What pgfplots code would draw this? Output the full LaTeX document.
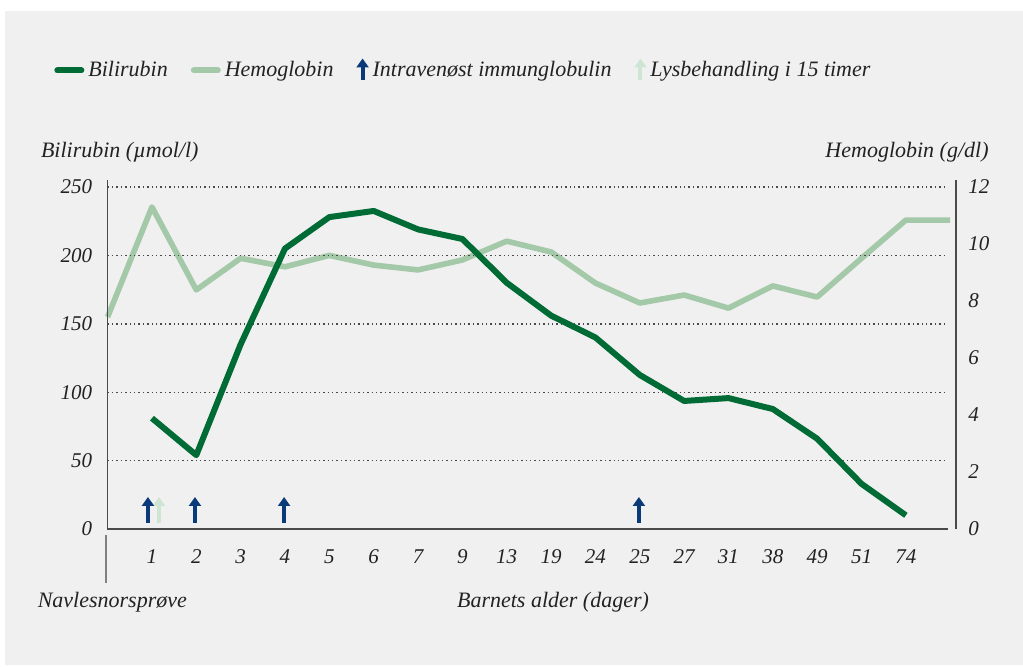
\documentclass[border=0pt]{standalone}
\usepackage{fontspec}
\setmainfont{Liberation Serif}
\usepackage{pgfplots}
\pgfplotsset{compat=1.18}
\usetikzlibrary{arrows.meta}
\definecolor{bgrey}{HTML}{F0F0F0}
\definecolor{dgreen}{HTML}{006B35}
\definecolor{lgreen}{HTML}{A3C9A8}
\definecolor{dblue}{HTML}{0A3A7A}
\definecolor{lgarrow}{HTML}{CFE5D3}
\definecolor{axgray}{HTML}{4A4A4A}
\definecolor{txt}{HTML}{222222}

\pgfplotstableread{
x hb
0 7.44
1 11.3
2 8.39
3 9.5
4 9.2
5 9.6
6 9.26
7 9.09
8 9.44
9 10.1
10 9.72
11 8.63
12 7.93
13 8.21
14 7.75
15 8.53
16 8.14
17 9.5
18 10.84
19 10.84
}\hbtable

\pgfplotstableread{
x bili
1 81
2 54
3 135
4 205
5 228
6 232.5
7 219
8 212
9 180
10 156
11 140
12 112.6
13 93.6
14 95.7
15 87.7
16 66
17 33
18 10
}\bilitable

\newcommand{\lblfont}{\itshape\fontsize{11}{13}\selectfont}
\newcommand{\tickfont}{\itshape\fontsize{10.5}{12}\selectfont}

\begin{document}
\begin{tikzpicture}[x=1pt,y=1pt]
\fill[white] (0,0) rectangle (511.5,333);
\fill[bgrey] (2.5,0.5) rectangle (511.5,327.5);

% Hemoglobin axis (right)
\begin{axis}[
  at={(53.8pt,68.5pt)}, anchor=south west,
  scale only axis, width=424.2pt, height=171pt,
  xmin=0, xmax=19.13, ymin=0, ymax=12,
  axis line style={draw=none}, tick style={draw=none},
  xtick=\empty,
  ytick={0,2,...,12},
  yticklabel pos=right,
  /pgf/number format/assume math mode=true,
  yticklabel style={font=\tickfont, text=txt, inner sep=0pt, xshift=6pt, anchor=west},
  clip=false,
]
\addplot[lgreen, line width=2.8pt, line join=round] table[x=x, y=hb] {\hbtable};
\draw[axgray, line width=0.8pt] (axis cs:19.13,0) -- (axis cs:19.13,12.25);
\end{axis}

% Bilirubin axis (left)
\begin{axis}[
  at={(53.8pt,68.5pt)}, anchor=south west,
  scale only axis, width=419.1pt, height=171pt,
  xmin=0, xmax=18.9, ymin=0, ymax=250,
  axis line style={draw=none}, tick style={draw=none},
  xtick={1,...,18},
  xticklabels={1,2,3,4,5,6,7,9,13,19,24,25,27,31,38,49,51,74},
  ytick={0,50,...,250},
  ymajorgrids,
  grid style={axgray, line width=0.7pt, dash pattern=on 0.7pt off 1.5pt},
  /pgf/number format/assume math mode=true,
  yticklabel style={font=\tickfont, text=txt, inner sep=0pt, xshift=-7.5pt, anchor=east},
  xticklabel style={font=\tickfont, text=txt, inner sep=0pt, anchor=base, yshift=-17pt},
  clip=false,
  legend columns=4,
  legend style={draw=none, fill=none, font=\lblfont, text=txt,
    at={(axis description cs:-0.064,1.342)}, anchor=west, inner sep=0pt,
    /tikz/every odd column/.append style={column sep=0pt},
    /tikz/every even column/.append style={column sep=9.5pt}},
]
\addplot[dgreen, line width=3pt, line join=round,
  legend image code/.code={\draw[dgreen, line width=3pt, line cap=round] (0pt,0pt) -- (12pt,0pt);}]
  table[x=x, y=bili] {\bilitable};
\addlegendentry{Bilirubin}
\addlegendimage{lgreen, line width=3pt,
  legend image code/.code={\draw[lgreen, line width=3pt, line cap=round] (0pt,0pt) -- (12pt,0pt);}}
\addlegendentry{Hemoglobin}
\addlegendimage{dblue,
  legend image code/.code={\draw[dblue, line width=2pt, -{Triangle[width=6pt,length=4.5pt]}] (0pt,-5pt) -- (0pt,6pt);}}
\addlegendentry{Intravenøst immunglobulin}
\addlegendimage{lgarrow,
  legend image code/.code={\draw[lgarrow, line width=2pt, -{Triangle[width=6pt,length=4.5pt]}] (0pt,-5pt) -- (0pt,6pt);}}
\addlegendentry{Lysbehandling i 15 timer}

\addplot[forget plot, lgarrow, line width=2pt, -{Triangle[width=6pt,length=4.5pt]}] coordinates {(1.16,4.4) (1.16,23.4)};
\addplot[forget plot, dblue, line width=2pt, -{Triangle[width=6pt,length=4.5pt]}] coordinates {(0.91,4.4) (0.91,23.4)};
\addplot[forget plot, dblue, line width=2pt, -{Triangle[width=6pt,length=4.5pt]}] coordinates {(1.97,4.4) (1.97,23.4)};
\addplot[forget plot, dblue, line width=2pt, -{Triangle[width=6pt,length=4.5pt]}] coordinates {(3.98,4.4) (3.98,23.4)};
\addplot[forget plot, dblue, line width=2pt, -{Triangle[width=6pt,length=4.5pt]}] coordinates {(11.98,4.4) (11.98,23.4)};

\draw[axgray, line width=0.8pt] (axis cs:0,255.1) -- (axis cs:0,0) -- (axis cs:18.95,0);
\end{axis}

\draw[gray, line width=0.6pt] (53,65.5) -- (53,41.5);
\node[anchor=base west, inner sep=0pt, font=\lblfont, text=txt] at (20.3,254.5) {Bilirubin (µmol/l)};
\node[anchor=base east, inner sep=0pt, font=\lblfont, text=txt] at (494.5,254.5) {Hemoglobin (g/dl)};
\node[anchor=base west, inner sep=0pt, font=\lblfont, text=txt] at (18.7,29.5) {Navlesnorsprøve};
\node[anchor=base, inner sep=0pt, font=\lblfont, text=txt] at (276.5,29.5) {Barnets alder (dager)};
\end{tikzpicture}
\end{document}
